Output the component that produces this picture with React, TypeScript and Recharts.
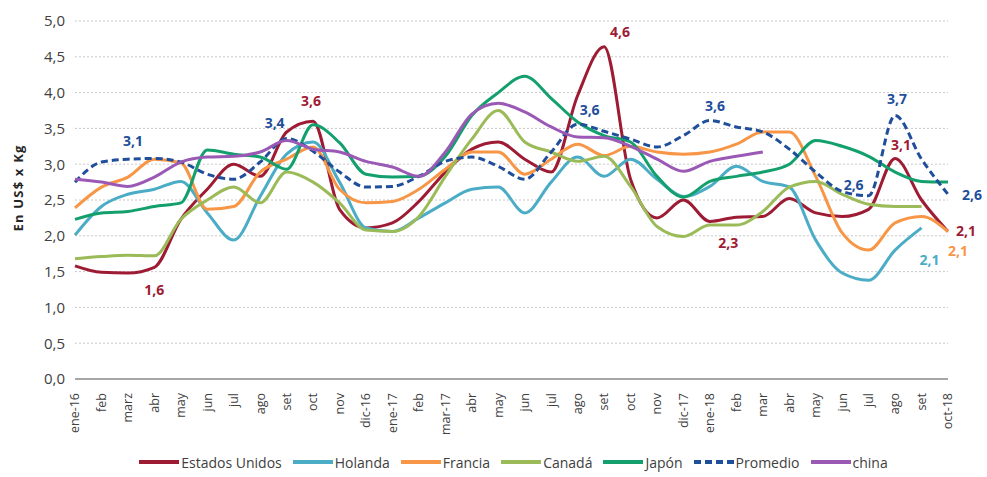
import { LineChart, Line, XAxis, YAxis, CartesianGrid, Legend, LabelList } from 'recharts'

const meses = [
  'ene-16', 'feb', 'marz', 'abr', 'may', 'jun', 'jul', 'ago', 'set', 'oct', 'nov', 'dic-16',
  'ene-17', 'feb', 'mar-17', 'abr', 'may', 'jun', 'jul', 'ago', 'set', 'oct', 'nov', 'dic-17',
  'ene-18', 'feb', 'mar', 'abr', 'may', 'jun', 'jul', 'ago', 'set', 'oct-18',
]

const estadosUnidos = [
  1.58, 1.49, 1.48, 1.56, 2.23, 2.65, 3.0, 2.83, 3.45, 3.6, 2.37, 2.11,
  2.18, 2.48, 2.89, 3.21, 3.31, 3.07, 2.89, 3.96, 4.64, 2.79, 2.25, 2.5,
  2.2, 2.26, 2.27, 2.52, 2.32, 2.27, 2.37, 3.08, 2.5, 2.06,
]
const holanda = [
  2.01, 2.41, 2.58, 2.65, 2.76, 2.32, 1.94, 2.55, 3.14, 3.31, 2.75, 2.11,
  2.06, 2.25, 2.46, 2.65, 2.68, 2.32, 2.75, 3.1, 2.83, 3.07, 2.79, 2.55,
  2.69, 2.97, 2.76, 2.68, 1.94, 1.48, 1.38, 1.8, 2.11, null,
]
const francia = [
  2.39, 2.68, 2.82, 3.07, 3.02, 2.37, 2.41, 2.89, 3.07, 3.24, 2.65, 2.46,
  2.48, 2.65, 2.93, 3.17, 3.17, 2.86, 3.07, 3.28, 3.12, 3.25, 3.17, 3.14,
  3.17, 3.28, 3.45, 3.45, 2.83, 2.04, 1.8, 2.18, 2.27, 2.06,
]
const canada = [
  1.68, 1.71, 1.73, 1.72, 2.23, 2.5, 2.68, 2.46, 2.89, 2.75, 2.46, 2.08,
  2.06, 2.27, 2.83, 3.35, 3.75, 3.31, 3.17, 3.04, 3.11, 2.69, 2.13, 1.99,
  2.15, 2.15, 2.34, 2.68, 2.76, 2.58, 2.44, 2.41, 2.41, null,
]
const japon = [
  2.23, 2.32, 2.34, 2.41, 2.46, 3.2, 3.14, 3.1, 2.93, 3.55, 3.3, 2.86,
  2.82, 2.83, 3.11, 3.68, 4.0, 4.23, 3.92, 3.59, 3.4, 3.31, 2.83, 2.54,
  2.76, 2.83, 2.89, 3.0, 3.33, 3.25, 3.11, 2.89, 2.76, 2.75,
]
const promedio = [
  2.75, 3.03, 3.07, 3.08, 3.03, 2.86, 2.79, 3.03, 3.36, 3.18, 2.89, 2.68,
  2.69, 2.83, 3.04, 3.1, 2.97, 2.79, 3.17, 3.56, 3.46, 3.35, 3.24, 3.4,
  3.61, 3.52, 3.45, 3.21, 2.89, 2.62, 2.56, 3.68, 3.07, 2.58,
]
const china = [
  2.79, 2.75, 2.69, 2.82, 3.03, 3.1, 3.11, 3.17, 3.33, 3.21, 3.17, 3.04,
  2.96, 2.83, 3.17, 3.7, 3.85, 3.73, 3.52, 3.38, 3.37, 3.25, 3.07, 2.9,
  3.04, 3.11, 3.17, null, null, null, null, null, null, null,
]

const yTicks = [0, 0.5, 1, 1.5, 2, 2.5, 3, 3.5, 4, 4.5, 5]

const data = meses.map((mes, i) => ({
  mes,
  eeuu: estadosUnidos[i],
  holanda: holanda[i],
  francia: francia[i],
  canada: canada[i],
  japon: japon[i],
  promedio: promedio[i],
  china: china[i],
}))

// where the value labels sit, by point index: [dx, dy, anchor]
const spots: Record<string, Record<number, [number, number, string]>> = {
  eeuu: { 3: [0, 28, 'middle'], 9: [-2, -15, 'middle'], 20: [16, -10, 'middle'], 25: [-8, 31, 'middle'], 31: [6, -8, 'middle'], 33: [8, 4, 'start'] },
  holanda: { 32: [8, 37, 'middle'] },
  francia: { 33: [10, 24, 'middle'] },
  promedio: { 2: [5, -13, 'middle'], 8: [-12, -10, 'middle'], 19: [12, -9, 'middle'], 24: [5, -10, 'middle'], 30: [-15, -6, 'middle'], 31: [2, -12, 'middle'], 33: [14, 6, 'start'] },
}

const series = [
  { key: 'eeuu', name: 'Estados Unidos', color: '#9E1B34' },
  { key: 'holanda', name: 'Holanda', color: '#4BACC6' },
  { key: 'francia', name: 'Francia', color: '#F79646' },
  { key: 'canada', name: 'Canadá', color: '#9BBB59' },
  { key: 'japon', name: 'Japón', color: '#13A06D' },
  { key: 'promedio', name: 'Promedio', color: '#1F4E9A', dash: '7 4' },
  { key: 'china', name: 'china', color: '#9B59B6' },
]

const fmt = (v: number) => (Math.round(v * 10) / 10).toFixed(1).replace('.', ',')

const MesTick = ({ x, y, payload }: any) => (
  <g transform={`translate(${x},${y + 6}) rotate(-90)`}>
    <text x={0} y={0} dy="0.35em" textAnchor="end" fontSize={12.5} fill="#404040" fontFamily="Open Sans">
      {payload.value}
    </text>
  </g>
)

const makeLabel = (key: string, color: string) => (props: any) => {
  const spot = spots[key]?.[props.index]
  if (!spot || props.value == null) return null
  return (
    <text
      x={props.x + spot[0]}
      y={props.y + spot[1]}
      textAnchor={spot[2]}
      fontSize={14}
      fontWeight="bold"
      fill={color}
      fontFamily="Open Sans"
    >
      {fmt(props.value)}
    </text>
  )
}

const YLabel = ({ viewBox }: any) => {
  const cx = 18
  const cy = viewBox.y + viewBox.height / 2 - 12
  return (
    <text x={cx} y={cy} transform={`rotate(-90, ${cx}, ${cy})`} textAnchor="middle" dy="0.35em"
      fontSize={13} fontWeight="bold" fill="#262626" fontFamily="Open Sans" letterSpacing={1.2}>
      En US$ x Kg
    </text>
  )
}

const LegendBox = () => (
  <div style={{ display: 'flex', justifyContent: 'center', alignItems: 'center', height: 30, paddingLeft: 90, paddingTop: 4, fontFamily: 'Open Sans', fontSize: 14, color: '#404040' }}>
    {series.map((s) => (
      <div key={s.key} style={{ display: 'flex', alignItems: 'center', marginRight: 11 }}>
        <svg width={40} height={8}>
          <line x1={0} y1={4} x2={40} y2={4} stroke={s.color} strokeWidth={4} strokeDasharray={s.dash} />
        </svg>
        <span style={{ marginLeft: 2 }}>{s.name}</span>
      </div>
    ))}
  </div>
)

export default function App() {
  return (
    <div style={{ position: 'absolute', left: 0, top: 0, background: '#fff' }}>
      <LineChart width={987} height={477} data={data} margin={{ top: 21, right: 39, left: 0, bottom: 0 }}>
        <CartesianGrid vertical={false} stroke="#C8C8C8" strokeDasharray="2 2" />
        <XAxis
          dataKey="mes"
          interval={0}
          tick={<MesTick />}
          tickLine={false}
          axisLine={{ stroke: '#A6A6A6', strokeWidth: 2 }}
          height={64}
        />
        <YAxis
          domain={[0, 5]}
          ticks={yTicks}
          tickFormatter={fmt}
          axisLine={false}
          tickLine={false}
          width={75}
          tick={{ fontSize: 15, fill: '#404040', fontFamily: 'Open Sans' }}
          tickMargin={4}
          label={<YLabel />}
        />
        <Legend verticalAlign="bottom" content={<LegendBox />} />
        {series.map((s) => (
          <Line
            key={s.key}
            type="monotone"
            dataKey={s.key}
            name={s.name}
            stroke={s.color}
            strokeWidth={3}
            strokeDasharray={s.dash}
            dot={false}
            activeDot={false}
            isAnimationActive={false}
          >
            {spots[s.key] && <LabelList dataKey={s.key} content={makeLabel(s.key, s.color)} />}
          </Line>
        ))}
      </LineChart>
    </div>
  )
}
